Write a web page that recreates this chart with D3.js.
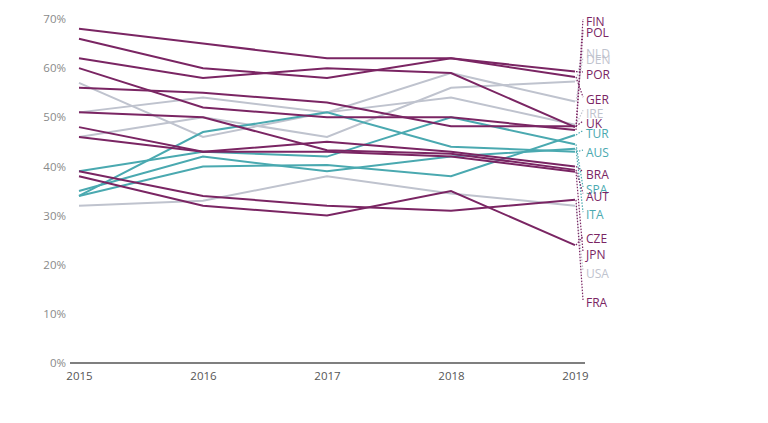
<!DOCTYPE html>
<html>
<head>
<meta charset="utf-8">
<script src="https://cdn.jsdelivr.net/npm/d3@7"></script>
<style>
  body { margin: 0; background: #fff; }
  text { font-family: "Open Sans", "Noto Sans", sans-serif; }
</style>
</head>
<body>
<div id="chart"></div>
<script>
// data
var years = [2015, 2016, 2017, 2018, 2019];
var countries = ["FIN", "POL", "NLD", "DEN", "POR", "GER", "IRE", "UK", "TUR", "AUS", "BRA", "SPA", "AUT", "ITA", "CZE", "JPN", "USA", "FRA"];
var groups    = ["p", "p", "g", "g", "p", "p", "g", "p", "t", "t", "p", "t", "p", "t", "p", "p", "g", "p"];
var values = [
  [62, 58, 60, 59, 48],     // FIN
  [60, 52, 50, 50, 47.4],   // POL
  [46, 50, 46, 56, 57.3],   // NLD
  [51, 54, 51, 59, 53.2],   // DEN
  [68, 65, 62, 62, 59.3],   // POR
  [66, 60, 58, 62, 58.2],   // GER
  [57, 46, 51, 54, 48.5],   // IRE
  [56, 55, 53, 48.2, 48.2], // UK
  [34, 40, 40.3, 38, 46.4], // TUR
  [34, 47, 51, 44, 43],     // AUS
  [48, 43, 45, 43, 40],     // BRA
  [39, 43, 42, 50, 44.5],   // SPA
  [51, 50, 43.3, 42.6, 39.3], // AUT
  [35, 42, 39, 42, 43.6],   // ITA
  [38, 32, 30, 35, 24],     // CZE
  [46, 43, 43, 42, 38.9],   // JPN
  [32, 33, 38, 34.5, 32],   // USA
  [39, 34, 32, 31, 33.2]    // FRA
];
// where each label sits on the value axis (%)
var labelAt = [69.4, 67.1, 63, 61.7, 58.6, 53.5, 50.8, 48.6, 46.7, 42.7, 38.3, 35.2, 33.9, 30.1, 25.2, 22, 18.1, 12.2];
var yTicks = [0, 10, 20, 30, 40, 50, 60, 70];

var colors = { p: "#7a2563", t: "#4aa9b0", g: "#bfc3ce" };
var order = { g: 0, t: 1, p: 2 };

var W = 768, H = 423;
var svg = d3.select("#chart").append("svg").attr("width", W).attr("height", H);

var x = d3.scaleLinear().domain([2015, 2019]).range([79, 575]);
var y = d3.scaleLinear().domain([0, 70]).range([363, 19]);

// y labels, no axis line
svg.append("g")
  .attr("transform", "translate(66,0)")
  .call(d3.axisLeft(y).tickValues(yTicks).tickFormat(function (d) { return d + "%"; }).tickSize(0).tickPadding(0))
  .call(function (g) { g.select(".domain").remove(); })
  .selectAll("text").style("font-size", "11.5px").attr("fill", "#8a8a8a");

// x axis
var xa = svg.append("g")
  .attr("transform", "translate(0,363)")
  .call(d3.axisBottom(x).tickValues(years).tickFormat(d3.format("d")).tickSize(0).tickPadding(9));
xa.select(".domain").attr("d", "M70,0H585").attr("stroke", "#555").attr("stroke-width", 1.3);
xa.selectAll("text").style("font-size", "11.5px").attr("fill", "#555");

var rows = countries.map(function (c, i) {
  return { name: c, grp: groups[i], vals: values[i], lab: labelAt[i] };
});
rows.sort(function (a, b) { return order[a.grp] - order[b.grp]; });

var line = d3.line()
  .x(function (d, i) { return x(years[i]); })
  .y(function (d) { return y(d); });

svg.append("g").selectAll("path").data(rows).join("path")
  .attr("d", function (d) { return line(d.vals); })
  .attr("fill", "none")
  .attr("stroke", function (d) { return colors[d.grp]; })
  .attr("stroke-width", 2);

// dotted leaders to labels
svg.append("g").selectAll("line").data(rows).join("line")
  .attr("x1", x(2019) + 1)
  .attr("y1", function (d) { return y(d.vals[4]); })
  .attr("x2", x(2019) + 8)
  .attr("y2", function (d) { return y(d.lab) - 3; })
  .attr("stroke", function (d) { return colors[d.grp]; })
  .attr("stroke-width", 1.2)
  .attr("stroke-dasharray", "1.5,1.5");

svg.append("g").selectAll("text").data(rows).join("text")
  .attr("x", x(2019) + 11)
  .attr("y", function (d) { return y(d.lab); })
  .attr("dy", "0.35em")
  .attr("fill", function (d) { return colors[d.grp]; })
  .style("font-size", "12px")
  .text(function (d) { return d.name; });
</script>
</body>
</html>
